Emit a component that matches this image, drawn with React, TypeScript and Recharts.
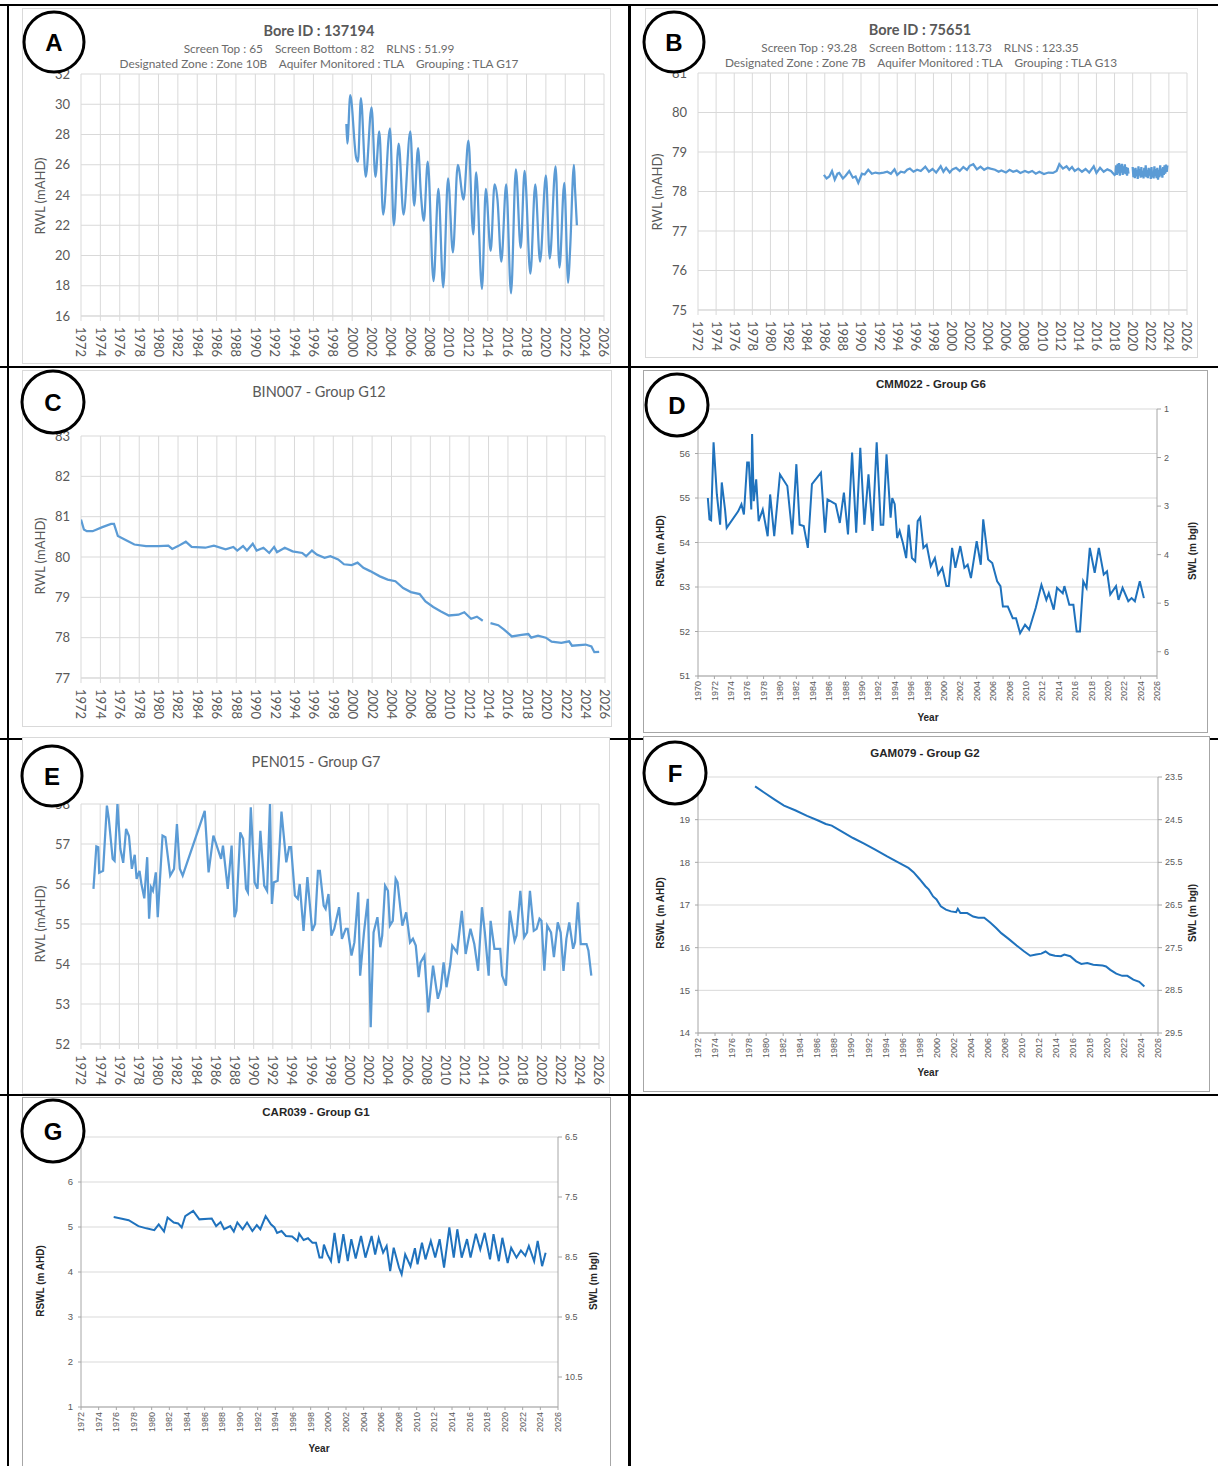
import React from 'react';
import { LineChart, Line, XAxis, YAxis, CartesianGrid } from 'recharts';

type Pt = [number, number | null];

// ---------- tick labels ----------
const years1972 = [1972, 1974, 1976, 1978, 1980, 1982, 1984, 1986, 1988, 1990, 1992, 1994, 1996, 1998, 2000, 2002, 2004, 2006, 2008, 2010, 2012, 2014, 2016, 2018, 2020, 2022, 2024, 2026];
const years1970 = [1970, 1972, 1974, 1976, 1978, 1980, 1982, 1984, 1986, 1988, 1990, 1992, 1994, 1996, 1998, 2000, 2002, 2004, 2006, 2008, 2010, 2012, 2014, 2016, 2018, 2020, 2022, 2024, 2026];
const ticksA = [16, 18, 20, 22, 24, 26, 28, 30, 32];
const ticksB = [75, 76, 77, 78, 79, 80, 81];
const ticksC = [77, 78, 79, 80, 81, 82, 83];
const ticksD = [51, 52, 53, 54, 55, 56, 57];
const ticksDRight = [1, 2, 3, 4, 5, 6];
const ticksE = [52, 53, 54, 55, 56, 57, 58];
const ticksF = [14, 15, 16, 17, 18, 19, 20];
const ticksFRight = [23.5, 24.5, 25.5, 26.5, 27.5, 28.5, 29.5];
const ticksG = [1, 2, 3, 4, 5, 6, 7];
const ticksGRight = [6.5, 7.5, 8.5, 9.5, 10.5];

// ---------- series (year, level) ----------
const bore137194: Pt[] = [[1999.4,28.7],[1999.5,27.4],[1999.8,30.6],[2000.4,26.5],[2000.6,26.2],[2000.9,30.4],[2001.4,25.2],[2002.0,29.8],[2002.4,25.2],[2002.8,28.2],[2003.2,22.7],[2003.9,28.4],[2004.3,22.0],[2004.8,27.4],[2005.3,22.7],[2006.0,28.2],[2006.4,23.3],[2006.8,27.1],[2007.1,24.0],[2007.4,22.3],[2007.8,26.2],[2008.4,18.3],[2008.9,24.4],[2009.4,17.9],[2009.9,25.1],[2010.4,20.2],[2010.9,26.0],[2011.5,23.7],[2012.0,27.6],[2012.5,21.4],[2012.8,25.5],[2013.4,17.8],[2013.8,24.4],[2014.3,20.3],[2014.7,24.7],[2015.0,23.7],[2015.4,19.6],[2015.9,24.7],[2016.4,17.5],[2016.9,25.7],[2017.4,20.5],[2017.8,25.6],[2018.4,18.8],[2018.9,24.7],[2019.4,19.6],[2020.0,25.3],[2020.4,19.8],[2021.0,25.9],[2021.4,19.2],[2021.9,24.8],[2022.3,18.2],[2022.5,20.4],[2022.9,26.0],[2023.0,24.5],[2023.2,22.0]];

const bore75651: Pt[] = [[1985.9,78.42],[1986.2,78.33],[1986.5,78.38],[1986.8,78.52],[1987.1,78.3],[1987.4,78.45],[1987.6,78.47],[1988.0,78.33],[1988.3,78.4],[1988.7,78.52],[1989.1,78.35],[1989.4,78.38],[1989.7,78.22],[1990.1,78.45],[1990.4,78.43],[1990.8,78.55],[1991.2,78.45],[1991.6,78.48],[1992.0,78.46],[1992.5,78.48],[1992.9,78.5],[1993.3,78.45],[1993.7,78.56],[1994.0,78.42],[1994.4,78.5],[1994.8,78.48],[1995.1,78.55],[1995.4,78.58],[1995.8,78.5],[1996.2,78.55],[1996.6,78.52],[1997.1,78.63],[1997.5,78.5],[1997.9,78.57],[1998.3,78.48],[1998.8,78.64],[1999.1,78.5],[1999.4,78.6],[1999.8,78.48],[2000.1,78.56],[2000.5,78.6],[2000.9,78.52],[2001.3,78.62],[2001.7,78.55],[2002.0,78.65],[2002.4,78.69],[2002.8,78.56],[2003.2,78.63],[2003.6,78.55],[2004.0,78.6],[2004.3,78.58],[2004.8,78.55],[2005.2,78.5],[2005.5,78.53],[2006.0,78.48],[2006.4,78.55],[2006.8,78.5],[2007.2,78.53],[2007.6,78.47],[2008.1,78.52],[2008.5,78.48],[2008.9,78.52],[2009.3,78.45],[2009.7,78.5],[2010.2,78.44],[2010.7,78.48],[2011.2,78.47],[2011.6,78.52],[2011.9,78.69],[2012.3,78.58],[2012.7,78.64],[2013.0,78.55],[2013.3,78.62],[2013.6,78.52],[2014.0,78.58],[2014.4,78.5],[2014.8,78.57],[2015.2,78.48],[2015.7,78.64],[2016.0,78.47],[2016.4,78.6],[2016.8,78.5],[2017.2,78.56],[2017.6,78.52],[2018.0,78.42],
[2018.1,78.44],[2018.18,78.66],[2018.26,78.42],[2018.34,78.7],[2018.42,78.46],[2018.5,78.72],[2018.58,78.4],[2018.66,78.68],[2018.74,78.48],[2018.82,78.7],[2018.9,78.42],[2018.98,78.64],[2019.06,78.46],[2019.14,78.69],[2019.22,78.44],[2019.3,78.62],[2019.38,78.4],[2019.46,78.6],[2019.54,78.45],[2019.75,null],
[2020.0,78.62],[2020.08,78.36],[2020.16,78.58],[2020.24,78.34],[2020.32,78.6],[2020.4,78.38],[2020.48,78.55],[2020.56,78.32],[2020.64,78.64],[2020.72,78.4],[2020.8,78.57],[2020.88,78.35],[2020.96,78.62],[2021.04,78.37],[2021.12,78.52],[2021.2,78.33],[2021.28,78.6],[2021.36,78.38],[2021.44,78.66],[2021.52,78.36],[2021.6,78.55],[2021.68,78.34],[2021.76,78.6],[2021.84,78.4],[2021.92,78.58],[2022.0,78.32],[2022.08,78.62],[2022.16,78.36],[2022.24,78.5],[2022.32,78.33],[2022.4,78.64],[2022.48,78.38],[2022.56,78.57],[2022.64,78.34],[2022.72,78.6],[2022.8,78.3],[2022.88,78.55],[2022.96,78.36],[2023.04,78.66],[2023.12,78.4],[2023.2,78.58],[2023.28,78.35],[2023.36,78.62],[2023.44,78.42],[2023.52,78.66],[2023.6,78.45],[2023.68,78.68],[2023.76,78.5],[2023.84,78.66]];

const bin007: Pt[] = [[1972.0,80.93],[1972.3,80.68],[1972.6,80.64],[1973.2,80.64],[1974.2,80.74],[1975.1,80.82],[1975.4,80.82],[1975.8,80.52],[1976.7,80.41],[1977.5,80.31],[1978.7,80.27],[1980.0,80.27],[1981.0,80.28],[1981.4,80.2],[1982.0,80.27],[1982.8,80.38],[1983.4,80.25],[1984.8,80.23],[1985.7,80.28],[1986.9,80.19],[1987.7,80.25],[1988.1,80.16],[1988.7,80.27],[1989.1,80.16],[1989.7,80.33],[1990.1,80.16],[1990.8,80.23],[1991.4,80.1],[1991.9,80.25],[1992.2,80.12],[1993.0,80.23],[1993.8,80.14],[1994.8,80.1],[1995.2,80.02],[1995.8,80.16],[1996.3,80.06],[1997.1,79.98],[1997.7,80.02],[1998.5,79.94],[1999.1,79.82],[1999.9,79.8],[2000.5,79.86],[2001.1,79.73],[2001.8,79.65],[2002.8,79.52],[2003.6,79.44],[2004.4,79.4],[2005.2,79.23],[2006.0,79.13],[2006.9,79.08],[2007.5,78.9],[2008.3,78.76],[2009.1,78.65],[2009.9,78.55],[2010.9,78.57],[2011.5,78.63],[2012.2,78.47],[2012.8,78.52],[2013.4,78.42],[2013.7,null],[2014.2,78.36],[2015.0,78.31],[2015.6,78.2],[2016.4,78.03],[2017.4,78.07],[2018.1,78.09],[2018.4,78.0],[2019.1,78.05],[2019.9,78.0],[2020.5,77.9],[2021.5,77.87],[2022.3,77.91],[2022.6,77.8],[2024.0,77.83],[2024.6,77.78],[2024.9,77.64],[2025.4,77.65]];

const cmm022: Pt[] = [[1971.2,55.0],[1971.4,54.52],[1971.6,54.5],[1971.9,56.25],[1972.3,55.08],[1972.7,54.4],[1972.9,55.35],[1973.3,54.74],[1973.5,54.33],[1974.9,54.7],[1975.3,54.86],[1975.6,54.63],[1976.0,55.8],[1976.2,55.8],[1976.5,54.74],[1976.6,56.44],[1976.8,54.93],[1977.1,55.42],[1977.4,54.48],[1977.9,54.74],[1978.5,54.14],[1978.8,55.08],[1979.3,54.14],[1980.0,55.53],[1980.9,55.27],[1981.5,54.18],[1982.0,55.76],[1982.4,54.4],[1982.9,54.37],[1983.4,53.88],[1983.9,55.31],[1985.0,55.57],[1985.5,54.22],[1985.8,54.97],[1986.8,54.86],[1987.3,54.44],[1987.8,55.12],[1988.3,54.18],[1988.8,56.02],[1989.3,54.22],[1989.8,56.13],[1990.3,54.4],[1990.8,55.53],[1991.3,54.26],[1991.8,56.25],[1992.3,54.4],[1992.6,54.4],[1993.0,55.98],[1993.5,54.56],[1993.7,55.0],[1994.0,54.86],[1994.3,54.1],[1994.6,54.26],[1995.0,53.99],[1995.4,53.65],[1995.7,54.4],[1996.1,53.65],[1996.5,53.58],[1996.8,54.48],[1997.1,54.56],[1997.5,53.88],[1997.9,53.95],[1998.4,53.47],[1998.9,53.65],[1999.3,53.28],[1999.8,53.43],[2000.3,53.02],[2000.6,53.02],[2001.0,53.88],[2001.4,53.43],[2002.0,53.92],[2002.5,53.43],[2002.9,53.5],[2003.3,53.2],[2004.0,54.03],[2004.5,53.5],[2004.8,54.52],[2005.4,53.62],[2005.9,53.54],[2006.5,53.13],[2006.9,53.02],[2007.2,52.56],[2007.8,52.56],[2008.4,52.3],[2008.8,52.3],[2009.3,51.96],[2009.9,52.15],[2010.4,52.04],[2011.2,52.53],[2011.9,53.05],[2012.5,52.71],[2012.8,52.86],[2013.4,52.49],[2013.8,52.98],[2014.5,52.86],[2014.7,53.02],[2015.3,52.6],[2015.8,52.6],[2016.2,52.0],[2016.6,52.0],[2017.0,53.13],[2017.4,52.98],[2017.8,53.88],[2018.4,53.32],[2018.9,53.88],[2019.5,53.28],[2019.9,53.35],[2020.3,52.83],[2021.0,53.02],[2021.3,52.71],[2021.8,52.98],[2022.5,52.68],[2022.9,52.75],[2023.3,52.68],[2023.9,53.13],[2024.4,52.75]];

const pen015: Pt[] = [[1973.3,55.88],[1973.6,56.94],[1973.8,56.92],[1973.9,56.28],[1974.3,56.33],[1974.7,57.96],[1974.9,57.63],[1975.3,56.63],[1975.5,56.58],[1975.8,58.0],[1976.1,56.88],[1976.4,56.53],[1976.7,57.38],[1977.0,57.2],[1977.3,56.38],[1977.6,56.73],[1977.8,56.13],[1978.1,56.33],[1978.3,56.0],[1978.6,55.64],[1978.9,56.67],[1979.1,55.13],[1979.3,55.92],[1979.5,55.83],[1979.8,56.29],[1980.0,55.17],[1980.5,57.21],[1980.8,57.17],[1981.3,56.21],[1981.7,56.38],[1982.0,57.5],[1982.3,56.38],[1982.6,56.21],[1984.9,57.83],[1985.3,56.29],[1985.8,57.21],[1986.6,56.63],[1986.8,56.96],[1987.3,55.88],[1987.7,56.96],[1988.0,55.17],[1988.2,55.33],[1988.6,57.29],[1988.9,57.13],[1989.2,55.88],[1989.4,55.79],[1989.7,57.92],[1990.1,56.04],[1990.4,55.88],[1990.7,57.33],[1991.1,55.96],[1991.4,55.83],[1991.7,58.0],[1991.9,55.5],[1992.1,56.04],[1992.5,56.08],[1992.9,57.81],[1993.4,56.54],[1993.7,56.92],[1993.9,56.92],[1994.3,55.71],[1994.6,55.63],[1994.8,56.0],[1995.2,54.83],[1995.6,56.17],[1996.1,54.83],[1996.4,55.0],[1996.7,56.33],[1996.9,56.33],[1997.3,55.46],[1997.5,55.38],[1997.8,55.75],[1998.1,54.71],[1998.4,54.88],[1998.9,55.42],[1999.2,54.63],[1999.6,54.88],[1999.8,54.88],[2000.2,54.21],[2000.5,54.54],[2000.9,55.79],[2001.1,53.71],[2001.5,54.79],[2001.9,55.63],[2002.2,52.42],[2002.5,54.79],[2002.9,55.17],[2003.2,54.42],[2003.4,54.71],[2003.7,55.96],[2004.0,55.83],[2004.2,54.96],[2004.5,55.08],[2004.8,56.13],[2005.0,56.04],[2005.3,55.38],[2005.5,54.96],[2005.9,55.29],[2006.3,54.54],[2006.6,54.63],[2006.9,54.46],[2007.2,53.67],[2007.4,54.04],[2007.8,54.21],[2008.2,52.79],[2008.7,53.96],[2009.2,53.13],[2009.5,53.38],[2009.8,54.04],[2010.1,53.42],[2010.5,54.0],[2010.7,54.46],[2011.2,54.29],[2011.7,55.33],[2012.1,54.25],[2012.6,54.88],[2013.0,54.5],[2013.4,53.83],[2013.8,55.42],[2014.1,54.79],[2014.5,53.71],[2014.7,55.08],[2015.1,54.38],[2015.7,54.38],[2015.9,53.71],[2016.3,53.46],[2016.7,55.33],[2017.2,54.58],[2017.4,54.71],[2017.8,55.83],[2018.2,54.67],[2018.5,54.79],[2018.8,55.83],[2019.2,54.83],[2019.5,54.88],[2019.8,55.13],[2020.0,55.08],[2020.3,53.83],[2020.6,54.96],[2021.0,54.79],[2021.3,54.17],[2021.7,55.04],[2022.0,54.79],[2022.3,53.83],[2022.6,54.63],[2022.9,55.04],[2023.3,54.38],[2023.5,54.54],[2023.8,55.54],[2024.1,54.5],[2024.7,54.5],[2024.9,54.33],[2025.2,53.71]];

const gam079: Pt[] = [[1978.7,19.78],[1979.8,19.63],[1981.0,19.47],[1982.1,19.33],[1983.4,19.22],[1984.8,19.09],[1986.1,18.98],[1987.0,18.9],[1987.7,18.86],[1988.8,18.73],[1990.2,18.57],[1991.5,18.44],[1992.8,18.3],[1994.2,18.14],[1995.5,18.0],[1996.7,17.87],[1997.3,17.77],[1998.0,17.61],[1998.7,17.44],[1999.1,17.36],[1999.6,17.2],[2000.0,17.13],[2000.5,16.97],[2001.1,16.89],[2001.7,16.85],[2002.3,16.83],[2002.5,16.91],[2002.8,16.81],[2003.6,16.81],[2004.3,16.73],[2004.9,16.7],[2005.6,16.7],[2006.3,16.59],[2007.0,16.46],[2007.6,16.34],[2008.5,16.2],[2009.4,16.05],[2010.3,15.91],[2011.0,15.81],[2011.7,15.84],[2012.3,15.86],[2012.8,15.91],[2013.3,15.84],[2013.9,15.81],[2014.6,15.8],[2015.0,15.84],[2015.7,15.8],[2016.4,15.68],[2017.0,15.62],[2017.7,15.64],[2018.4,15.6],[2019.5,15.58],[2019.9,15.56],[2020.4,15.48],[2021.1,15.39],[2021.8,15.34],[2022.4,15.34],[2023.1,15.25],[2023.8,15.2],[2024.4,15.09]];

const car039: Pt[] = [[1975.7,5.22],[1976.5,5.19],[1977.4,5.15],[1978.5,5.02],[1979.4,4.97],[1980.3,4.93],[1980.8,5.06],[1981.4,4.9],[1981.8,5.21],[1982.5,5.1],[1983.0,5.08],[1983.4,4.99],[1983.8,5.24],[1984.7,5.36],[1985.4,5.17],[1986.8,5.19],[1987.3,5.02],[1987.8,5.11],[1988.2,4.95],[1988.9,5.02],[1989.3,4.9],[1989.7,5.1],[1990.3,4.95],[1990.8,5.1],[1991.4,4.91],[1991.9,5.04],[1992.3,4.95],[1992.9,5.24],[1993.5,5.06],[1993.9,4.99],[1994.2,4.87],[1994.7,4.91],[1995.2,4.8],[1995.9,4.79],[1996.5,4.69],[1996.7,4.85],[1997.2,4.71],[1997.7,4.75],[1998.2,4.65],[1998.6,4.65],[1999.0,4.32],[1999.3,4.32],[1999.5,4.61],[1999.9,4.39],[2000.3,4.24],[2000.7,4.87],[2001.2,4.2],[2001.7,4.84],[2002.2,4.24],[2002.6,4.73],[2003.1,4.3],[2003.7,4.8],[2004.2,4.32],[2004.9,4.8],[2005.3,4.39],[2005.7,4.75],[2006.2,4.43],[2006.6,4.58],[2007.0,4.02],[2007.4,4.54],[2008.0,4.1],[2008.3,3.95],[2008.7,4.39],[2009.3,4.13],[2009.8,4.53],[2010.1,4.17],[2010.6,4.65],[2011.0,4.28],[2011.6,4.69],[2012.1,4.32],[2012.6,4.73],[2013.1,4.1],[2013.7,4.99],[2014.2,4.32],[2014.6,4.95],[2015.1,4.32],[2015.7,4.73],[2016.1,4.32],[2016.7,4.85],[2017.2,4.5],[2017.7,4.87],[2018.3,4.28],[2018.7,4.84],[2019.3,4.24],[2019.7,4.76],[2020.3,4.2],[2020.7,4.54],[2021.3,4.32],[2021.8,4.48],[2022.3,4.36],[2022.7,4.58],[2023.3,4.24],[2023.7,4.69],[2024.2,4.13],[2024.6,4.43]];

// ---------- layout / styles ----------
const LATO = 'Lato, "Open Sans", sans-serif';
const ARIAL = '"Liberation Sans", Arial, sans-serif';

type Panel = {
  box: [number, number, number, number];
  off: [number, number, number, number];
  xDomain: [number, number];
  xTicks: number[];
  yDomain: [number, number];
  yTicks: number[];
  yHide?: number[];
  right?: { domain: [number, number]; ticks: number[] };
  data: Pt[];
  kind: 'new' | 'old';
  curve: 'linear' | 'monotone';
  border: string;
};

const panels: Panel[] = [
  { box: [22, 8, 589, 356], off: [59, 7, 66, 48], xDomain: [1972, 2026], xTicks: years1972, yDomain: [16, 32], yTicks: ticksA, data: bore137194, kind: 'new', curve: 'monotone', border: '#d9d9d9' },
  { box: [645, 8, 553, 350], off: [53, 11, 65, 48], xDomain: [1972, 2026], xTicks: years1972, yDomain: [75, 81], yTicks: ticksB, data: bore75651, kind: 'new', curve: 'linear', border: '#d9d9d9' },
  { box: [22, 370, 590, 357], off: [59, 7, 66, 49], xDomain: [1972, 2026], xTicks: years1972, yDomain: [77, 83], yTicks: ticksC, data: bin007, kind: 'new', curve: 'linear', border: '#d9d9d9' },
  { box: [643, 370, 565, 363], off: [55, 51, 39, 57], xDomain: [1970, 2026], xTicks: years1970, yDomain: [51, 57], yTicks: ticksD, yHide: [57], right: { domain: [1, 6.5], ticks: ticksDRight }, data: cmm022, kind: 'old', curve: 'linear', border: '#a6a6a6' },
  { box: [22, 737, 588, 357], off: [59, 11, 67, 50], xDomain: [1972, 2026], xTicks: years1972, yDomain: [52, 58], yTicks: ticksE, data: pen015, kind: 'new', curve: 'linear', border: '#d9d9d9' },
  { box: [643, 736, 567, 356], off: [55, 52, 41, 59], xDomain: [1972, 2026], xTicks: years1972, yDomain: [14, 20], yTicks: ticksF, yHide: [20], right: { domain: [23.5, 29.5], ticks: ticksFRight }, data: gam079, kind: 'old', curve: 'linear', border: '#a6a6a6' },
  { box: [22, 1097, 589, 372], off: [59, 53, 40, 62], xDomain: [1972, 2026], xTicks: years1972, yDomain: [1, 7], yTicks: ticksG, yHide: [7], right: { domain: [6.5, 11], ticks: ticksGRight }, data: car039, kind: 'old', curve: 'linear', border: '#a6a6a6' },
];

function PanelChart({ p }: { p: Panel }) {
  const [bx, by, bw, bh] = p.box;
  const [L, R, T, B] = p.off;
  const isNew = p.kind === 'new';
  const font = isNew ? LATO : ARIAL;
  const tc = '#595959';
  const axisColor = isNew ? '#d9d9d9' : '#a6a6a6';
  const lineColor = isNew ? '#5b9bd5' : '#1f72bd';
  const rows = p.data.map(([x, y]) => ({ x, y }));
  const hide = p.yHide ?? [];
  const rot = isNew ? 90 : -90;

  const xTick = (props: any) => {
    const { x, y, payload } = props;
    return (
      <text x={x} y={y} transform={`rotate(${rot} ${x} ${y})`} textAnchor={rot > 0 ? 'start' : 'end'} dy="0.35em" fontFamily={font} fontSize={isNew ? 13 : 9} fill={tc}>
        {payload.value}
      </text>
    );
  };
  const yTick = (props: any) => {
    const { x, y, payload } = props;
    if (hide.includes(payload.value)) return <g />;
    return (
      <text x={x} y={y} dy="0.35em" textAnchor="end" fontFamily={font} fontSize={isNew ? 13 : 9.5} fill={tc}>
        {payload.value}
      </text>
    );
  };
  const rTick = (props: any) => {
    const { x, y, payload } = props;
    return (
      <text x={x} y={y} dy="0.35em" textAnchor="start" fontFamily={font} fontSize={9} fill={tc}>
        {payload.value}
      </text>
    );
  };

  return (
    <div style={{ position: 'absolute', left: bx, top: by, width: bw, height: bh, background: '#fff' }}>
      <div style={{ position: 'absolute', left: 0, top: 0, width: bw, height: bh, boxSizing: 'border-box', border: `1px solid ${p.border}` }} />
      <div style={{ position: 'absolute', left: 0, top: 0 }}>
        <LineChart width={bw} height={bh} data={rows} style={{ overflow: 'visible' }} margin={{ top: T, right: p.right ? 5 : R, bottom: 5, left: 5 }}>
          <CartesianGrid stroke="#d9d9d9" strokeWidth={1} vertical={isNew} horizontal={true} />
          <XAxis
            dataKey="x"
            type="number"
            domain={p.xDomain}
            ticks={p.xTicks}
            interval={0}
            allowDataOverflow
            height={B - 5}
            tick={xTick}
            tickSize={isNew ? 5 : 3}
            tickMargin={isNew ? 6 : 2}
            axisLine={{ stroke: axisColor }}
            tickLine={{ stroke: axisColor }}
          />
          <YAxis
            type="number"
            domain={p.yDomain}
            ticks={p.yTicks}
            interval={0}
            allowDataOverflow
            width={L - 5}
            tick={yTick}
            tickSize={isNew ? 0 : 3}
            tickMargin={isNew ? 11 : 5}
            axisLine={isNew ? false : { stroke: axisColor }}
            tickLine={isNew ? false : { stroke: axisColor }}
          />
          {p.right && (
            <YAxis
              yAxisId="r"
              orientation="right"
              type="number"
              reversed
              domain={p.right.domain}
              ticks={p.right.ticks}
              interval={0}
              allowDataOverflow
              width={R - 5}
              tick={rTick}
              tickSize={4}
              tickMargin={3}
              axisLine={{ stroke: axisColor }}
              tickLine={{ stroke: axisColor }}
            />
          )}
          <Line
            dataKey="y"
            type={p.curve}
            stroke={lineColor}
            strokeWidth={isNew ? 2.25 : 2}
            dot={false}
            activeDot={false}
            connectNulls={false}
            isAnimationActive={false}
          />
        </LineChart>
      </div>
    </div>
  );
}

const circles: [string, number, number, number][] = [
  ['A', 54, 42, 30],
  ['B', 674, 42, 30],
  ['C', 53, 402, 31],
  ['D', 677, 405, 31],
  ['E', 52, 776, 30],
  ['F', 675, 773, 31],
  ['G', 53, 1131, 31],
];

export default function App() {
  const hl = (y: number, h = 2) => <div style={{ position: 'absolute', left: 0, top: y, width: 1218, height: h, background: '#000' }} />;
  const vl = (x: number, w = 2) => <div style={{ position: 'absolute', left: x, top: 4, width: w, height: 1462, background: '#000' }} />;
  const newTitle = { fontFamily: LATO, fill: '#595959' };
  const oldTitle = { fontFamily: ARIAL, fill: '#262626', fontWeight: 700 };
  const sub = { fontFamily: LATO, fill: '#6b6b6b', fontSize: 11.8 };
  return (
    <div style={{ position: 'absolute', left: 0, top: 0, width: 1218, height: 1466, background: '#fff', overflow: 'hidden' }}>
      {hl(4)}
      {hl(366)}
      {hl(738)}
      {hl(1094)}
      {vl(7)}
      {vl(628, 3)}
      {panels.map((p, i) => (
        <PanelChart key={i} p={p} />
      ))}
      <svg width={1218} height={1466} style={{ position: 'absolute', left: 0, top: 0, pointerEvents: 'none' }}>
        {/* A */}
        <text x={319} y={30} textAnchor="middle" dominantBaseline="central" fontSize={14.5} fontWeight={700} {...newTitle}>Bore ID : 137194</text>
        <text x={319} y={48} textAnchor="middle" dominantBaseline="central" style={{ whiteSpace: 'pre' }} {...sub}>{'Screen Top : 65    Screen Bottom : 82    RLNS : 51.99'}</text>
        <text x={319} y={63} textAnchor="middle" dominantBaseline="central" style={{ whiteSpace: 'pre' }} {...sub}>{'Designated Zone : Zone 10B    Aquifer Monitored : TLA    Grouping : TLA G17'}</text>
        <text transform="translate(40 196) rotate(-90)" textAnchor="middle" dominantBaseline="central" fontSize={13} {...newTitle}>RWL (mAHD)</text>
        {/* B */}
        <text x={920} y={29} textAnchor="middle" dominantBaseline="central" fontSize={14.5} fontWeight={700} {...newTitle}>Bore ID : 75651</text>
        <text x={920} y={47} textAnchor="middle" dominantBaseline="central" style={{ whiteSpace: 'pre' }} {...sub}>{'Screen Top : 93.28    Screen Bottom : 113.73    RLNS : 123.35'}</text>
        <text x={921} y={62} textAnchor="middle" dominantBaseline="central" style={{ whiteSpace: 'pre' }} {...sub}>{'Designated Zone : Zone 7B    Aquifer Monitored : TLA    Grouping : TLA G13'}</text>
        <text transform="translate(657 192) rotate(-90)" textAnchor="middle" dominantBaseline="central" fontSize={13} {...newTitle}>RWL (mAHD)</text>
        {/* C */}
        <text x={319} y={391} textAnchor="middle" dominantBaseline="central" fontSize={14.5} {...newTitle}>BIN007 - Group G12</text>
        <text transform="translate(40 556) rotate(-90)" textAnchor="middle" dominantBaseline="central" fontSize={13} {...newTitle}>RWL (mAHD)</text>
        {/* D */}
        <text x={931} y={384} textAnchor="middle" dominantBaseline="central" fontSize={11.5} {...oldTitle}>CMM022 - Group G6</text>
        <text transform="translate(660 551) rotate(-90)" textAnchor="middle" dominantBaseline="central" fontSize={10} {...oldTitle}>RSWL (m AHD)</text>
        <text transform="translate(1192 551) rotate(-90)" textAnchor="middle" dominantBaseline="central" fontSize={10} {...oldTitle}>SWL (m bgl)</text>
        <text x={928} y={717} textAnchor="middle" dominantBaseline="central" fontSize={10} {...oldTitle}>Year</text>
        {/* E */}
        <text x={316} y={761} textAnchor="middle" dominantBaseline="central" fontSize={14.5} {...newTitle}>PEN015 - Group G7</text>
        <text transform="translate(40 924) rotate(-90)" textAnchor="middle" dominantBaseline="central" fontSize={13} {...newTitle}>RWL (mAHD)</text>
        {/* F */}
        <text x={925} y={753} textAnchor="middle" dominantBaseline="central" fontSize={11.5} {...oldTitle}>GAM079 - Group G2</text>
        <text transform="translate(660 913) rotate(-90)" textAnchor="middle" dominantBaseline="central" fontSize={10} {...oldTitle}>RSWL (m AHD)</text>
        <text transform="translate(1192 913) rotate(-90)" textAnchor="middle" dominantBaseline="central" fontSize={10} {...oldTitle}>SWL (m bgl)</text>
        <text x={928} y={1072} textAnchor="middle" dominantBaseline="central" fontSize={10} {...oldTitle}>Year</text>
        {/* G */}
        <text x={316} y={1112} textAnchor="middle" dominantBaseline="central" fontSize={11.5} {...oldTitle}>CAR039 - Group G1</text>
        <text transform="translate(40 1281) rotate(-90)" textAnchor="middle" dominantBaseline="central" fontSize={10} {...oldTitle}>RSWL (m AHD)</text>
        <text transform="translate(593 1281) rotate(-90)" textAnchor="middle" dominantBaseline="central" fontSize={10} {...oldTitle}>SWL (m bgl)</text>
        <text x={319} y={1448} textAnchor="middle" dominantBaseline="central" fontSize={10} {...oldTitle}>Year</text>
        {circles.map(([l, cx, cy, r]) => (
          <g key={l}>
            <circle cx={cx} cy={cy} r={r} fill="#fff" stroke="#000" strokeWidth={3} />
            <text x={cx} y={cy} textAnchor="middle" dominantBaseline="central" fontFamily={ARIAL} fontWeight={700} fontSize={24} fill="#000">{l}</text>
          </g>
        ))}
      </svg>
    </div>
  );
}
